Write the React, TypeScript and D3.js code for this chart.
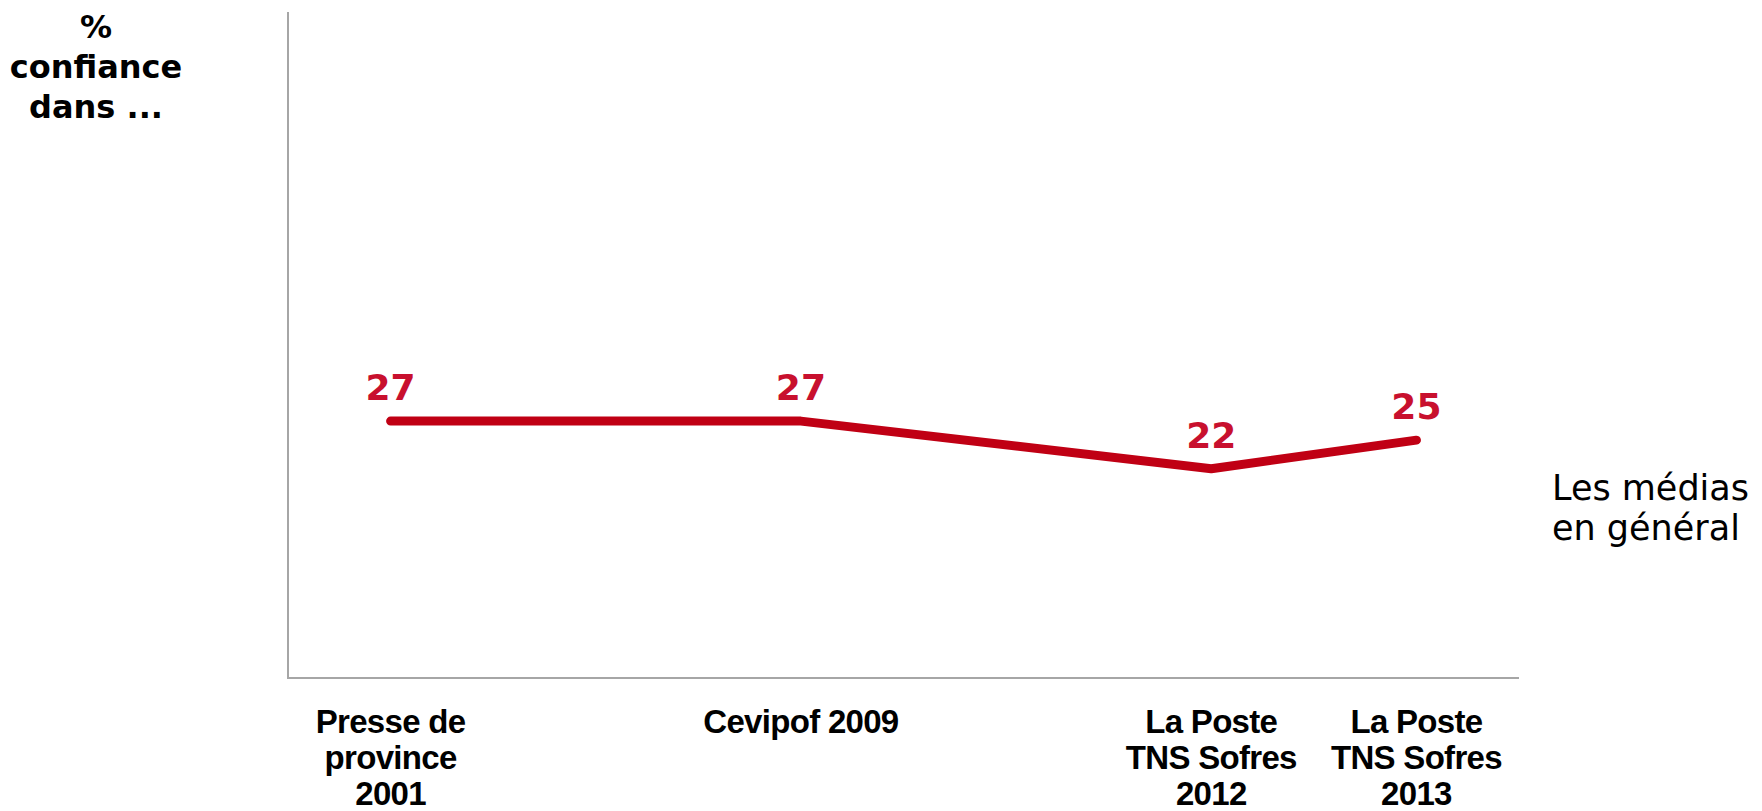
import React from "react";
import * as d3 from "d3";

// categories (blank slots keep the original spacing of the x axis)
const categories = ["c0", "c1", "c2", "c3", "c4", "c5"];
const categoryLabels = [
  ["Presse de", "province", "2001"],
  [],
  ["Cevipof 2009"],
  [],
  ["La Poste", "TNS Sofres", "2012"],
  ["La Poste", "TNS Sofres", "2013"],
];
const pointCategories = ["c0", "c2", "c4", "c5"];
const values = [27, 27, 22, 25];
const seriesName = ["Les médias", "en général"];
const titleLines = ["%", "confiance", "dans ..."];

const width = 1762;
const height = 811;
const margin = { left: 288, right: 243, top: 12, bottom: 133 };

const App = () => {
  const x = d3
    .scaleBand()
    .domain(categories)
    .range([margin.left, width - margin.right]);
  const y = d3
    .scaleLinear()
    .domain([0, 70])
    .range([height - margin.bottom, margin.top]);

  const cx = (c) => (x(c) || 0) + x.bandwidth() / 2;

  const points = pointCategories.map((c, i) => ({ c, v: values[i] }));
  const line = d3
    .line()
    .x((d) => cx(d.c))
    .y((d) => y(d.v));

  const y0 = y(0);

  return (
    <svg
      width={width}
      height={height}
      style={{ position: "absolute", left: 0, top: 0, background: "#fff" }}
    >
      {/* axes */}
      <line x1={margin.left} x2={margin.left} y1={y(70)} y2={y0 + 1} stroke="#a6a6a6" strokeWidth={2} />
      <line x1={margin.left} x2={width - margin.right} y1={y0} y2={y0} stroke="#a6a6a6" strokeWidth={2} />

      {/* title */}
      <text
        x={96}
        textAnchor="middle"
        fontFamily="DejaVu Sans, Verdana, sans-serif"
        fontWeight="bold"
        fontSize={32}
        fill="#000"
      >
        {titleLines.map((t, i) => (
          <tspan key={i} x={96} y={38 + i * 40}>
            {t}
          </tspan>
        ))}
      </text>

      {/* category labels */}
      {categoryLabels.map((lines, i) => (
        <text
          key={i}
          textAnchor="middle"
          fontFamily="Liberation Sans, Arial, sans-serif"
          fontWeight="bold"
          fontSize={33}
          letterSpacing="-0.7"
          fill="#000"
        >
          {lines.map((t, j) => (
            <tspan key={j} x={cx(categories[i])} y={y0 + 55 + j * 36}>
              {t}
            </tspan>
          ))}
        </text>
      ))}

      {/* series line */}
      <path
        d={line(points) || ""}
        fill="none"
        stroke="#c00014"
        strokeWidth={9}
        strokeLinecap="round"
        strokeLinejoin="round"
      />

      {/* value labels */}
      {points.map((d, i) => (
        <text
          key={i}
          x={cx(d.c)}
          y={y(d.v) - 21}
          textAnchor="middle"
          fontFamily="DejaVu Sans, Verdana, sans-serif"
          fontWeight="bold"
          fontSize={36}
          fill="#c8102e"
        >
          {d.v}
        </text>
      ))}

      {/* series name */}
      <text fontFamily="DejaVu Sans, Verdana, sans-serif" fontSize={35} fill="#000">
        {seriesName.map((t, i) => (
          <tspan key={i} x={1552} y={500 + i * 40}>
            {t}
          </tspan>
        ))}
      </text>
    </svg>
  );
};

export default App;
